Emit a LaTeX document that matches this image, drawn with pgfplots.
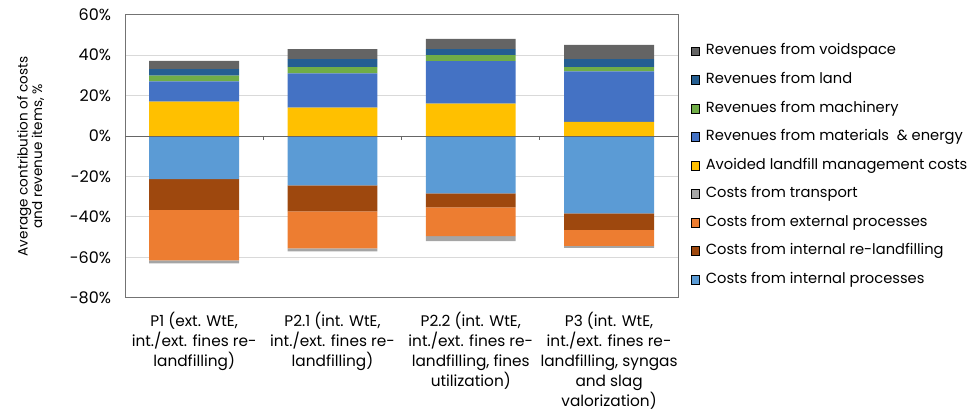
\documentclass[border=0pt]{standalone}
\usepackage{pgfplots}
\pgfplotsset{compat=1.18}
\usepackage{fontspec}
\setmainfont{Poppins}

\definecolor{cVoid}{HTML}{646464}
\definecolor{cLand}{HTML}{255E91}
\definecolor{cMach}{HTML}{70AD47}
\definecolor{cMat}{HTML}{4472C4}
\definecolor{cAvoid}{HTML}{FFC000}
\definecolor{cTrans}{HTML}{A5A5A5}
\definecolor{cExt}{HTML}{ED7D31}
\definecolor{cReland}{HTML}{9E480E}
\definecolor{cInt}{HTML}{5B9BD5}

% values in percent, categories 0..3 = P1, P2.1, P2.2, P3
\pgfplotstableread{
x avoid mat mach land void
0 17 10 2.8 3.3 4
1 14 17 3 4 5
2 16 21 3 3 5
3 7 25 2 4 7
}\postab
\pgfplotstableread{
x int reland ext trans
0 -21.3 -15.2 -25 -1.5
1 -24.4 -12.9 -18.3 -1.5
2 -28.4 -6.9 -14.2 -2.5
3 -38.3 -8.1 -7.9 -1
}\negtab

\begin{document}
\begin{tikzpicture}
\pgfplotsset{
  base/.style={
    width=414.75pt, height=212.25pt, scale only axis,
    xmin=-0.5, xmax=3.5, ymin=-80, ymax=60,
    ybar stacked, bar width=0.65,
  },
  sq/.style={legend image code/.code={\fill[##1] (0pt,-3.3pt) rectangle (6.6pt,3.3pt);}},
}
\begin{axis}[base, name=a,
  ytick={-80,-60,...,60},
  yticklabel={\pgfmathprintnumber[assume math mode=true]{\tick}\%},
  yticklabel style={xshift=-7pt, font=\fontsize{12}{14}\selectfont},
  ymajorgrids, grid style={draw=black!15, line width=0.6pt},
  axis line style={draw=black!55, line width=0.7pt},
  major tick length=0pt,
  xtick={0,1,2,3},
  xticklabels={
    {P1 (ext. WtE,\\int./ext. fines re-\\landfilling)},
    {P2.1 (int. WtE,\\int./ext. fines re-\\landfilling)},
    {P2.2 (int. WtE,\\int./ext. fines re-\\landfilling, fines\\utilization)},
    {P3 (int. WtE,\\int./ext. fines re-\\landfilling, syngas\\and slag\\valorization)}},
  xticklabel style={align=center, yshift=-7pt, font=\fontsize{11.5}{15}\selectfont},
  ylabel={Average contribution of costs\\and revenue items, \%},
  ylabel style={at={(axis description cs:-0.1706,0.5)}, anchor=center,
    align=center, font=\fontsize{10.2}{11}\selectfont},
  legend cell align=left,
  legend style={draw=none, fill=none, at={(1,1)}, anchor=north west,
    xshift=9pt, yshift=-22pt, inner sep=0pt, row sep=10.9pt, column sep=4.5pt,
    nodes={inner sep=0pt, text height=8pt, text depth=2.5pt},
    font=\fontsize{11}{13}\selectfont},
]
\addlegendimage{sq, fill=cVoid}\addlegendentry{Revenues from voidspace}
\addlegendimage{sq, fill=cLand}\addlegendentry{Revenues from land}
\addlegendimage{sq, fill=cMach}\addlegendentry{Revenues from machinery}
\addlegendimage{sq, fill=cMat}\addlegendentry{Revenues from materials\ \ \& energy}
\addlegendimage{sq, fill=cAvoid}\addlegendentry{Avoided landfill management costs}
\addlegendimage{sq, fill=cTrans}\addlegendentry{Costs from transport}
\addlegendimage{sq, fill=cExt}\addlegendentry{Costs from external processes}
\addlegendimage{sq, fill=cReland}\addlegendentry{Costs from internal re-landfilling}
\addlegendimage{sq, fill=cInt}\addlegendentry{Costs from internal processes}
\addplot[fill=cInt, draw=none, forget plot] table[x=x, y=int] {\negtab};
\addplot[fill=cReland, draw=none, forget plot] table[x=x, y=reland] {\negtab};
\addplot[fill=cExt, draw=none, forget plot] table[x=x, y=ext] {\negtab};
\addplot[fill=cTrans, draw=none, forget plot] table[x=x, y=trans] {\negtab};
\end{axis}
\begin{axis}[base, hide axis]
\addplot[fill=cAvoid, draw=none] table[x=x, y=avoid] {\postab};
\addplot[fill=cMat, draw=none] table[x=x, y=mat] {\postab};
\addplot[fill=cMach, draw=none] table[x=x, y=mach] {\postab};
\addplot[fill=cLand, draw=none] table[x=x, y=land] {\postab};
\addplot[fill=cVoid, draw=none] table[x=x, y=void] {\postab};
\draw[black!60, line width=0.7pt] (axis cs:-0.5,0) -- (axis cs:3.5,0);
\pgfplotsinvokeforeach{0.5,1.5,2.5}{\draw[black!60, line width=0.7pt] (axis cs:#1,0) -- ([yshift=-3pt]axis cs:#1,0);}
\end{axis}
\pgfresetboundingbox
\path ([shift={(-93.75pt,-88pt)}]a.south west) rectangle ([shift={(219.5pt,11pt)}]a.north east);
\end{tikzpicture}
\end{document}
